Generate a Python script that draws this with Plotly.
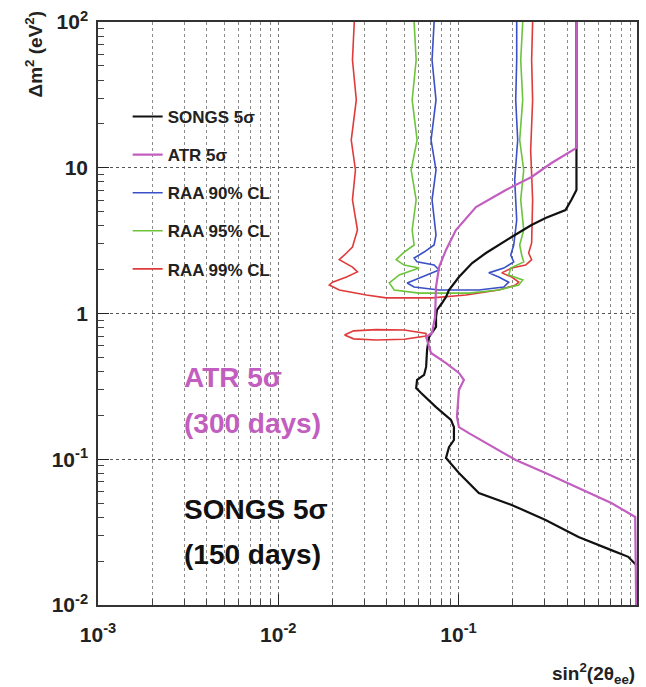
import plotly.graph_objects as go

# ---------------- data ----------------
songs_x = [0.451, 0.451, 0.423, 0.392, 0.304, 0.254, 0.197, 0.167, 0.142, 0.119, 0.1005,
           0.0885, 0.0852, 0.0810, 0.0760, 0.0750, 0.0750, 0.0686, 0.0669, 0.0661, 0.0644,
           0.0589, 0.0582, 0.0620, 0.0750, 0.0908, 0.0943, 0.0943, 0.0885, 0.0852, 0.1005,
           0.1296, 0.1972, 0.304, 0.463, 0.704, 0.874, 0.967]
songs_y = [100, 7.04, 6.03, 5.13, 4.52, 4.05, 3.35, 2.95, 2.60, 2.22, 1.78,
           1.45, 1.30, 1.18, 1.06, 0.946, 0.808, 0.69, 0.562, 0.43, 0.379,
           0.35, 0.308, 0.285, 0.228, 0.186, 0.166, 0.1355, 0.121, 0.102, 0.0805,
           0.0587, 0.0486, 0.0383, 0.0293, 0.0238, 0.0214, 0.0188]

atr_x = [0.451, 0.451, 0.328, 0.254, 0.183, 0.125, 0.0967, 0.0852, 0.0780, 0.0750, 0.0741,
         0.0713, 0.0661, 0.0704, 0.0852, 0.1005, 0.1071, 0.1005, 0.0980, 0.1005, 0.1141,
         0.1417, 0.1737, 0.2076, 0.304, 0.463, 0.704, 0.955, 0.967]
atr_y = [100, 13.7, 10.78, 8.64, 7.04, 5.38, 3.74, 2.73, 2.08, 1.52, 0.946,
         0.735, 0.69, 0.536, 0.457, 0.391, 0.35, 0.299, 0.195, 0.166, 0.151,
         0.129, 0.112, 0.0989, 0.0805, 0.0635, 0.0501, 0.0402, 0.01]

raa90_x = [0.0732, 0.0713, 0.0750, 0.0704, 0.0750, 0.0713, 0.0750, 0.0732, 0.0644, 0.0567,
           0.0589, 0.0732, 0.0780, 0.0604, 0.0519, 0.0567, 0.0780, 0.1296, 0.1782, 0.1899,
           0.1672, 0.1472, 0.1782, 0.2024, 0.1948, 0.2024, 0.2102, 0.2049, 0.2129, 0.2076,
           0.2102, 0.2102]
raa90_y = [100, 54.8, 29.2, 15.5, 9.65, 6.03, 3.46, 2.95, 2.64, 2.40,
           2.26, 2.15, 1.99, 1.75, 1.62, 1.52, 1.45, 1.45, 1.52, 1.64,
           1.78, 1.90, 2.05, 2.26, 2.52, 2.95, 4.38, 8.25, 15.5, 29.2,
           54.8, 100]

raa95_x = [0.0567, 0.0582, 0.0553, 0.0589, 0.0546, 0.0582, 0.0553, 0.0567, 0.0499, 0.0451,
           0.0499, 0.0604, 0.0469, 0.0413, 0.0440, 0.0604, 0.1141, 0.1672, 0.2157, 0.2270,
           0.1899, 0.1948, 0.2299, 0.2241, 0.2184, 0.2299, 0.2213, 0.2299, 0.2184, 0.2270,
           0.2213, 0.2270]
raa95_y = [100, 54.8, 29.2, 15.5, 9.65, 6.03, 3.74, 2.95, 2.64, 2.34,
           2.15, 2.05, 1.84, 1.62, 1.45, 1.38, 1.38, 1.45, 1.57, 1.70,
           1.84, 2.05, 2.26, 2.52, 2.95, 3.74, 6.03, 9.65, 15.5, 29.2,
           54.8, 100]

raa99_x = [0.0264, 0.0258, 0.0271, 0.0254, 0.0268, 0.0258, 0.0275, 0.0258, 0.0239, 0.0218,
           0.0258, 0.0275, 0.0239, 0.0200, 0.0192, 0.0218, 0.0308, 0.0397, 0.0713, 0.1099,
           0.1672, 0.2076, 0.2157, 0.1972, 0.1737, 0.1972, 0.2358, 0.2544, 0.2449, 0.2544,
           0.2576, 0.2513, 0.2576, 0.2544, 0.2576]
raa99_y = [100, 54.8, 29.2, 15.5, 9.65, 6.03, 3.74, 2.86, 2.60, 2.34,
           2.08, 1.93, 1.78, 1.64, 1.57, 1.45, 1.34, 1.28, 1.28, 1.34,
           1.45, 1.57, 1.64, 1.78, 1.90, 2.05, 2.15, 2.34, 2.60, 3.05,
           6.03, 13.2, 29.2, 54.8, 100]

island_x = [0.0233, 0.0262, 0.035, 0.050, 0.066, 0.066, 0.050, 0.035, 0.0262, 0.0233]
island_y = [0.712, 0.76, 0.775, 0.77, 0.73, 0.70, 0.665, 0.658, 0.67, 0.712]

x_tickvals = [1e-3, 1e-2, 1e-1]
x_ticktext = ["10<sup>-3</sup>", "10<sup>-2</sup>", "10<sup>-1</sup>"]
y_tickvals = [1e-2, 1e-1, 1, 10, 100]
y_ticktext = ["10<sup>-2</sup>", "10<sup>-1</sup>", "1", "10", "10<sup>2</sup>"]
minor_vals = [m * 10.0 ** e for e in (-3, -2, -1) for m in range(2, 10)]
y_minor_vals = [m * 10.0 ** e for e in (-2, -1, 0, 1) for m in range(2, 10)]

# ---------------- styles ----------------
FONT = "Liberation Sans"
C_SONGS = "#111111"
C_ATR = "#c25ec0"
C_90 = "#3a4fc8"
C_95 = "#6cc43a"
C_99 = "#e03a3a"

fig = go.Figure()

fig.add_trace(go.Scatter(x=raa99_x, y=raa99_y, mode="lines", name="RAA 99% CL",
                         line=dict(color=C_99, width=1.6), legendgroup="g5", legendrank=5))
fig.add_trace(go.Scatter(x=island_x, y=island_y, mode="lines", name="RAA 99% CL",
                         line=dict(color=C_99, width=1.6), legendgroup="g5",
                         showlegend=False))
fig.add_trace(go.Scatter(x=raa95_x, y=raa95_y, mode="lines", name="RAA 95% CL",
                         line=dict(color=C_95, width=1.6), legendgroup="g4", legendrank=4))
fig.add_trace(go.Scatter(x=raa90_x, y=raa90_y, mode="lines", name="RAA 90% CL",
                         line=dict(color=C_90, width=1.6), legendgroup="g3", legendrank=3))
fig.add_trace(go.Scatter(x=songs_x, y=songs_y, mode="lines", name="SONGS 5σ",
                         line=dict(color=C_SONGS, width=2.2), legendgroup="g1", legendrank=1))
fig.add_trace(go.Scatter(x=atr_x, y=atr_y, mode="lines", name="ATR 5σ",
                         line=dict(color=C_ATR, width=2.2), legendgroup="g2", legendrank=2))

fig.update_layout(
    width=646, height=687,
    margin=dict(l=98, r=7, t=22, b=82),
    paper_bgcolor="white", plot_bgcolor="white",
    font=dict(family=FONT, color="#111111"),
    showlegend=True,
    legend=dict(x=0.055, y=0.868, xanchor="left", yanchor="top",
                bgcolor="rgba(0,0,0,0)", traceorder="grouped", tracegroupgap=13,
                font=dict(family=FONT, size=17, weight="bold", color="#222222")),
)

fig.update_xaxes(
    type="log", range=[-3, -0.01],
    tickmode="array", tickvals=x_tickvals, ticktext=x_ticktext,
    ticks="inside", ticklen=11, tickwidth=1.2, tickcolor="#222",
    tickfont=dict(family=FONT, size=21, weight="bold", color="#222"),
    ticklabelstandoff=10,
    showline=True, linecolor="#333", linewidth=1.5, mirror=True,
    showgrid=True, gridcolor="#777", griddash="dot", gridwidth=1,
    zeroline=False,
    minor=dict(tickmode="array", tickvals=minor_vals, ticks="inside", ticklen=6,
               tickcolor="#444", showgrid=True, gridcolor="#8a8a8a", griddash="dot",
               gridwidth=1),
)
fig.update_yaxes(
    type="log", range=[-2, 2],
    tickmode="array", tickvals=y_tickvals, ticktext=y_ticktext,
    ticks="inside", ticklen=11, tickwidth=1.2, tickcolor="#222",
    tickfont=dict(family=FONT, size=21, weight="bold", color="#222"),
    ticklabelstandoff=4,
    showline=True, linecolor="#333", linewidth=1.5, mirror=True,
    showgrid=True, gridcolor="#555", griddash="dot", gridwidth=1,
    zeroline=False,
    minor=dict(tickmode="array", tickvals=y_minor_vals, ticks="inside", ticklen=6,
               tickcolor="#444", showgrid=False),
)

# axis titles
fig.add_annotation(text="sin<sup>2</sup>(2θ<sub>ee</sub>)", xref="paper", yref="paper",
                   x=1.0, y=-0.118, xanchor="right", yanchor="middle", showarrow=False,
                   font=dict(family=FONT, size=19, weight="bold", color="#222"))
fig.add_annotation(text="Δm<sup>2</sup> (eV<sup>2</sup>)", xref="paper", yref="paper",
                   x=-0.118, y=0.945, xanchor="center", yanchor="middle", showarrow=False,
                   textangle=-90,
                   font=dict(family=FONT, size=19, weight="bold", color="#222"))

# big labels
fig.add_annotation(text="ATR 5σ", xref="paper", yref="paper", x=0.155, y=0.391,
                   xanchor="left", yanchor="middle", showarrow=False,
                   font=dict(family=FONT, size=28, weight="bold", color=C_ATR))
fig.add_annotation(text="(300 days)", xref="paper", yref="paper", x=0.155, y=0.312,
                   xanchor="left", yanchor="middle", showarrow=False,
                   font=dict(family=FONT, size=28, weight="bold", color=C_ATR))
fig.add_annotation(text="SONGS 5σ", xref="paper", yref="paper", x=0.155, y=0.163,
                   xanchor="left", yanchor="middle", showarrow=False,
                   font=dict(family=FONT, size=28, weight="bold", color="#111"))
fig.add_annotation(text="(150 days)", xref="paper", yref="paper", x=0.155, y=0.086,
                   xanchor="left", yanchor="middle", showarrow=False,
                   font=dict(family=FONT, size=28, weight="bold", color="#111"))

fig.write_html("out.html")
